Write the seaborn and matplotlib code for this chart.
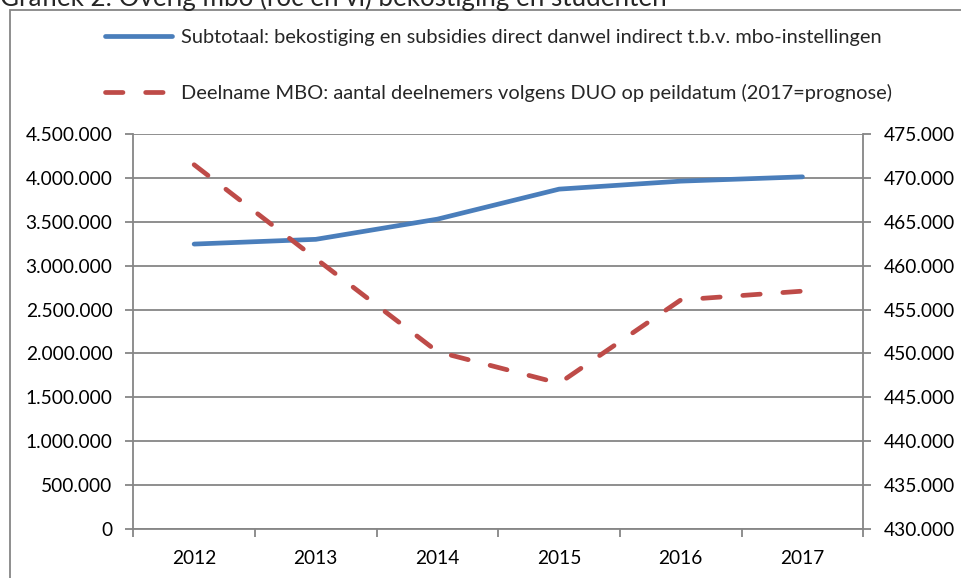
#!/usr/bin/env python3
"""Grafiek 2: overig mbo (roc en vi) bekostiging en studenten."""

import matplotlib

matplotlib.use("Agg")

import matplotlib.pyplot as plt
import pandas as pd
import seaborn as sns
from matplotlib.patches import Rectangle
from matplotlib.ticker import FixedLocator, FuncFormatter, MultipleLocator

YEARS = ["2012", "2013", "2014", "2015", "2016", "2017"]
SUBTOTAAL = [3246000, 3300000, 3530000, 3872000, 3963000, 4012000]
DEELNAME = [471500, 460800, 450200, 446600, 456100, 457100]

TITLE = "Grafiek 2: Overig mbo (roc en vi) bekostiging en studenten"
LABEL_SUB = "Subtotaal: bekostiging en subsidies direct danwel indirect t.b.v. mbo-instellingen"
LABEL_DEEL = "Deelname MBO: aantal deelnemers volgens DUO op peildatum (2017=prognose)"

BLUE = "#4A7EBB"
RED = "#BE4B48"
GREY = "#868686"
TICK_FS = 13.8
LEGEND_FS = 14.4
TITLE_FS = 18.7

W, H = 961, 578


def dutch(value, _pos):
    """Format numbers with dots as thousands separator."""
    return f"{value:,.0f}".replace(",", ".")


sns.set_theme(style="white")
plt.rcParams["font.family"] = ["Lato", "DejaVu Sans"]

frame = pd.DataFrame({"jaar": YEARS, "subtotaal": SUBTOTAAL, "deelname": DEELNAME})
frame["pos"] = range(len(frame))

fig = plt.figure(figsize=(W / 100, H / 100), dpi=100)
ax = fig.add_axes([133.3 / W, 1 - 529 / H, 730 / W, 395 / H])
ax2 = ax.twinx()

sns.lineplot(data=frame, x="pos", y="subtotaal", color=BLUE, linewidth=3.4,
             solid_capstyle="round", ax=ax, legend=False)
sns.lineplot(data=frame, x="pos", y="deelname", color=RED, linewidth=3.4,
             linestyle=(0, (3.7, 4.8)), dash_capstyle="round", ax=ax2, legend=False)

ax.set_xlim(-0.5, len(YEARS) - 0.5)
ax.set_ylim(0, 4_500_000)
ax2.set_ylim(430_000, 475_000)
ax.yaxis.set_major_locator(MultipleLocator(500_000))
ax2.yaxis.set_major_locator(MultipleLocator(5_000))
ax.yaxis.set_major_formatter(FuncFormatter(dutch))
ax2.yaxis.set_major_formatter(FuncFormatter(dutch))

# category axis: ticks between the years, labels centred
ax.xaxis.set_major_locator(FixedLocator([i - 0.5 for i in range(len(YEARS) + 1)]))
ax.xaxis.set_minor_locator(FixedLocator(list(range(len(YEARS)))))
ax.set_xticklabels([], minor=False)
ax.set_xticklabels(YEARS, minor=True)
ax.tick_params(axis="x", which="major", bottom=True, direction="out", length=6,
               width=1.3, color=GREY)
ax.tick_params(axis="x", which="minor", bottom=True, length=0, pad=15, labelsize=TICK_FS,
               labelcolor="black")
ax.tick_params(axis="y", left=True, direction="out", length=6, width=1.3, color=GREY,
               pad=9, labelsize=TICK_FS, labelcolor="black")
ax2.tick_params(axis="y", right=True, direction="out", length=6, width=1.3, color=GREY,
                pad=9, labelsize=TICK_FS, labelcolor="black")
ax.set(xlabel="", ylabel="")
ax2.set(ylabel="")

ax.grid(axis="y", color=GREY, linewidth=1.3)
ax.grid(axis="x", visible=False)
ax2.grid(False)
ax.set_axisbelow(True)

for name, spine in ax.spines.items():
    spine.set_visible(name in ("left", "bottom"))
    spine.set_color(GREY)
    spine.set_linewidth(1.3)
for name, spine in ax2.spines.items():
    spine.set_visible(name == "right")
    spine.set_color(GREY)
    spine.set_linewidth(1.3)

handles = [ax.get_lines()[0], ax2.get_lines()[0]]
fig.legend(handles, [LABEL_SUB, LABEL_DEEL], loc="upper left",
           bbox_to_anchor=(105.4 / W, 1 - 28.5 / H), frameon=False, fontsize=LEGEND_FS,
           borderpad=0, borderaxespad=0, handlelength=3.35, handletextpad=0.42,
           labelspacing=1.9)

# the caption sits just above the chart frame and is cut off by the image edge
fig.text(-0.5 / W, 1 - 6 / H, TITLE, ha="left", va="baseline", fontsize=TITLE_FS)
fig.patches.append(Rectangle((10 / W, -0.1), 1.2, 1.1 - 10 / H, transform=fig.transFigure,
                             fill=False, edgecolor=GREY, linewidth=1.3))

fig.savefig("out.png", dpi=100)
